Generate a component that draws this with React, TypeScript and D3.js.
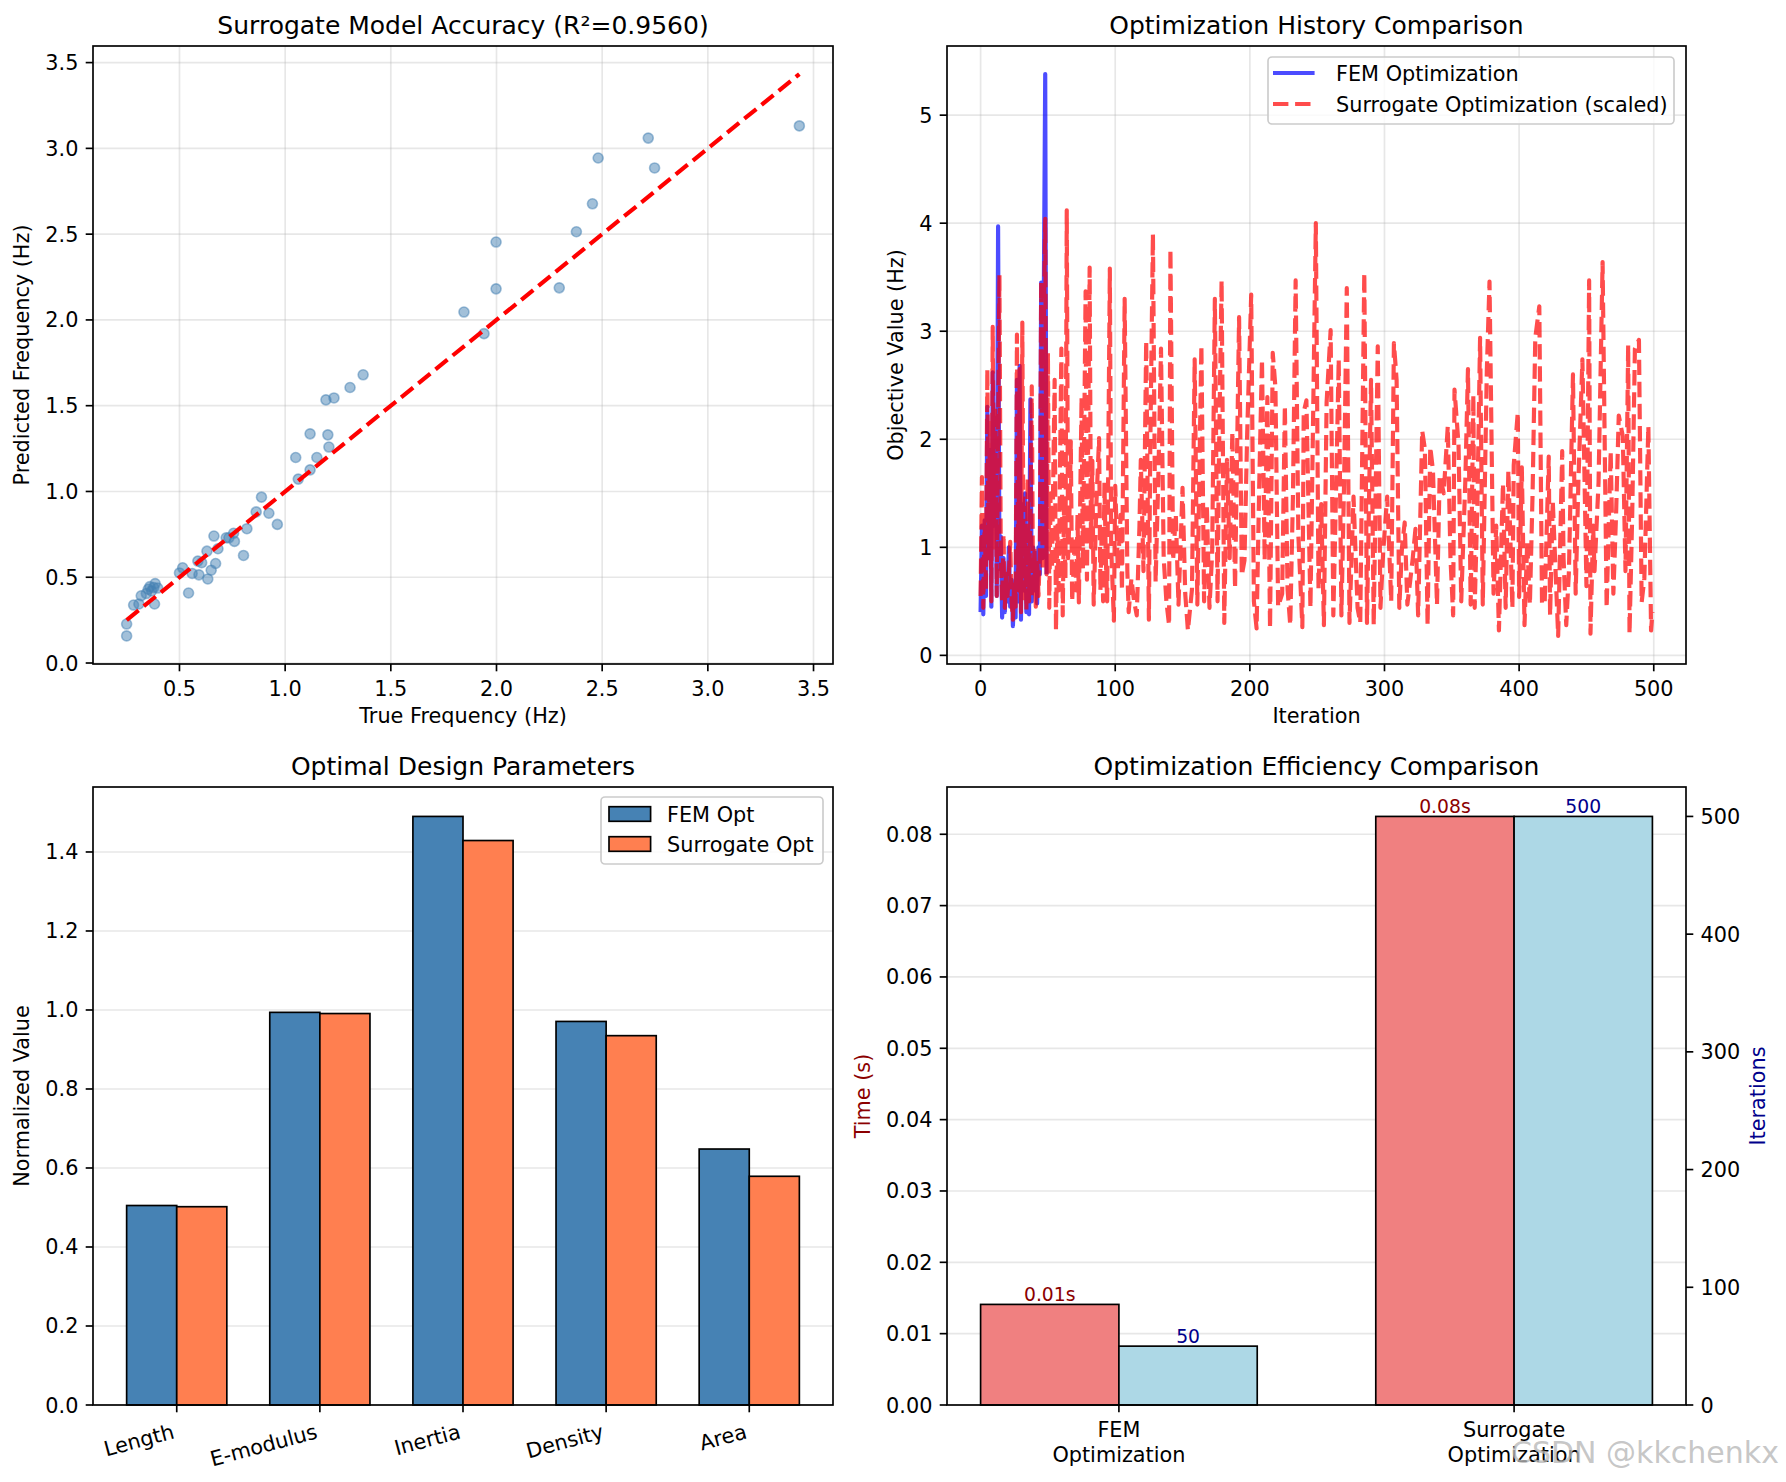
import * as d3 from "d3";
import { useEffect } from "react";

// ---- data ----
const trueFreq = [
  0.25, 0.25, 0.283, 0.308, 0.382, 0.319, 0.343, 0.352, 0.36, 0.368, 0.378, 0.385, 0.397,
  0.5, 0.515, 0.543, 0.56, 0.592, 0.587, 0.63, 0.634, 0.65, 0.671, 0.663, 0.682, 0.605,
  0.721, 0.734, 0.756, 0.76, 0.803, 0.819, 0.863, 0.888, 0.923, 0.963, 1.062,
  1.05, 1.118, 1.118, 1.15, 1.193, 1.202, 1.207, 1.231, 1.307, 1.369, 1.846, 1.941,
  1.998, 1.998, 2.297, 2.378, 2.454, 2.481, 2.718, 2.748, 3.433,
];
const predFreq = [
  0.158, 0.227, 0.338, 0.344, 0.344, 0.392, 0.405, 0.43, 0.445, 0.42, 0.44, 0.463, 0.437,
  0.525, 0.555, 0.408, 0.522, 0.514, 0.594, 0.652, 0.49, 0.541, 0.58, 0.74, 0.666, 0.585,
  0.73, 0.73, 0.756, 0.709, 0.627, 0.783, 0.881, 0.967, 0.873, 0.808, 1.072,
  1.198, 1.126, 1.336, 1.198, 1.534, 1.33, 1.259, 1.545, 1.606, 1.68, 2.046, 1.92,
  2.454, 2.181, 2.187, 2.514, 2.677, 2.944, 3.06, 2.886, 3.131,
];

const femHistory = [
  0.4, 1.2, 0.38, 1.25, 0.55, 2.3, 0.9, 1.9, 0.45, 2.62, 1.2, 2.2, 0.55, 3.97, 0.8, 1.1, 0.35,
  0.9, 0.4, 0.75, 0.5, 1.0, 0.45, 0.7, 0.27, 0.6, 0.35, 2.55, 0.5, 2.68, 0.33, 1.4, 0.6, 1.5,
  0.4, 1.1, 0.38, 2.37, 0.5, 1.0, 0.6, 0.95, 0.48, 1.0, 0.75, 3.45, 0.9, 3.4, 5.38, 0.75,
];

// [iteration, value]
const surrogateHistory: [number, number][] = [
  [0, 0.55], [1, 1.65], [2, 0.44], [3, 1.3], [4, 0.6], [5, 2.65], [6, 0.9], [7, 2.2], [8, 0.5],
  [9, 3.04], [10, 1.0], [11, 2.3], [12, 0.55], [14, 3.52], [15, 0.9], [16, 0.5], [17, 1.12],
  [18, 0.44], [19, 0.8], [20, 0.55], [21, 0.75], [22, 1.05], [23, 0.5], [24, 0.33], [25, 0.7],
  [26, 0.45], [27, 2.97], [28, 0.6], [29, 2.65], [30, 0.4], [31, 3.08], [32, 0.5], [33, 1.2],
  [34, 0.42], [35, 1.64], [36, 0.5], [37, 1.3], [38, 2.49], [39, 0.55], [40, 1.0], [41, 0.45],
  [42, 0.9], [43, 0.55], [44, 0.95], [45, 3.46], [46, 0.8], [47, 3.1], [48, 4.04], [49, 0.75],
  [50, 2.8], [51, 0.44], [52, 1.5], [53, 0.8], [55, 2.55], [56, 0.23], [57, 1.2], [58, 0.6],
  [60, 2.84], [61, 0.37], [62, 1.4], [63, 0.7], [64, 4.12], [65, 0.9], [66, 1.3], [67, 1.98],
  [68, 0.5], [70, 1.1], [71, 0.6], [72, 1.3], [73, 0.49], [75, 2.39], [76, 0.8], [78, 3.37],
  [79, 0.7], [81, 3.59], [82, 1.0], [83, 1.8], [84, 0.47], [86, 1.4], [88, 2.01], [89, 0.6],
  [90, 1.2], [91, 0.5], [92, 1.6], [93, 0.9], [94, 0.5], [96, 3.58], [97, 1.0], [99, 0.32],
  [100, 1.57], [102, 0.8], [104, 1.3], [105, 0.6], [107, 3.3], [109, 0.78], [110, 0.4],
  [112, 0.71], [114, 0.5], [116, 0.37], [118, 1.2], [119, 1.81], [121, 0.78], [123, 2.91],
  [125, 0.33], [126, 1.88], [128, 3.9], [130, 0.68], [132, 1.64], [134, 2.84], [136, 0.9],
  [138, 0.5], [140, 0.28], [141, 3.76], [143, 0.88], [145, 1.3], [147, 0.47], [150, 1.55],
  [152, 0.57], [154, 0.23], [157, 0.61], [159, 2.74], [161, 0.47], [164, 2.87], [166, 0.5],
  [168, 1.4], [170, 0.44], [172, 0.95], [174, 3.3], [176, 0.5], [177, 1.8], [179, 3.47],
  [181, 0.3], [183, 1.81], [185, 0.9], [187, 2.07], [189, 0.62], [192, 3.13], [194, 0.74],
  [196, 0.88], [198, 2.05], [201, 3.34], [203, 0.5], [205, 0.25], [207, 1.6], [209, 2.74],
  [211, 0.88], [213, 2.39], [215, 0.25], [217, 2.8], [219, 2.48], [221, 0.45], [224, 0.57],
  [226, 2.31], [228, 0.61], [230, 0.28], [232, 1.47], [234, 3.47], [236, 1.12], [239, 0.26],
  [240, 2.25], [242, 2.36], [245, 0.44], [249, 4.0], [251, 0.61], [253, 1.4], [255, 0.28],
  [257, 2.34], [260, 3.01], [262, 0.37], [264, 1.5], [266, 2.74], [268, 0.37], [270, 1.6],
  [272, 3.4], [274, 0.3], [277, 1.47], [280, 0.44], [282, 0.3], [285, 3.54], [287, 0.3],
  [290, 2.55], [292, 0.28], [295, 2.86], [297, 0.44], [299, 0.95], [302, 1.47], [305, 0.5],
  [307, 2.89], [309, 2.55], [311, 0.44], [313, 1.0], [315, 1.23], [317, 0.47], [319, 0.68],
  [321, 0.9], [323, 1.17], [325, 0.37], [328, 2.08], [330, 1.91], [332, 0.28], [334, 1.93],
  [336, 1.71], [339, 0.47], [341, 1.67], [344, 1.5], [347, 2.12], [349, 0.9], [351, 0.37],
  [352, 2.46], [355, 1.95], [357, 0.5], [360, 1.6], [362, 2.65], [364, 0.47], [366, 2.41],
  [367, 0.44], [369, 1.4], [371, 2.94], [373, 0.47], [376, 2.63], [378, 3.46], [381, 0.57],
  [383, 1.2], [385, 0.23], [388, 1.59], [390, 0.44], [392, 1.71], [395, 0.44], [396, 1.76],
  [399, 2.25], [400, 0.54], [402, 1.74], [404, 0.28], [406, 1.05], [408, 0.47], [410, 1.5],
  [412, 2.94], [415, 3.23], [417, 0.47], [419, 0.49], [422, 1.84], [423, 0.37], [425, 1.43],
  [427, 0.8], [429, 0.18], [432, 1.89], [433, 0.9], [435, 0.28], [437, 0.78], [440, 2.6],
  [442, 0.57], [444, 1.6], [447, 2.74], [450, 0.64], [452, 3.47], [453, 0.2], [455, 1.2],
  [456, 0.78], [459, 1.6], [462, 3.64], [465, 0.44], [468, 1.89], [470, 0.57], [472, 1.3],
  [474, 2.22], [477, 2.03], [479, 0.78], [481, 2.87], [482, 0.2], [484, 1.3], [486, 2.84],
  [489, 2.92], [491, 0.49], [493, 0.71], [496, 2.12], [498, 0.23], [499, 0.4],
];

const paramNames = ["Length", "E-modulus", "Inertia", "Density", "Area"];
const femParams = [0.505, 0.994, 1.49, 0.971, 0.648];
const surrogateParams = [0.502, 0.991, 1.429, 0.935, 0.579];

const methodNames = [["FEM", "Optimization"], ["Surrogate", "Optimization"]];
const timeTaken = [0.0141, 0.0825];
const iterationCounts = [50, 500];

const scatterXTicks = [0.5, 1.0, 1.5, 2.0, 2.5, 3.0, 3.5];
const scatterYTicks = [0.0, 0.5, 1.0, 1.5, 2.0, 2.5, 3.0, 3.5];
const historyXTicks = [0, 100, 200, 300, 400, 500];
const historyYTicks = [0, 1, 2, 3, 4, 5];
const paramYTicks = [0.0, 0.2, 0.4, 0.6, 0.8, 1.0, 1.2, 1.4];
const timeTicks = [0.0, 0.01, 0.02, 0.03, 0.04, 0.05, 0.06, 0.07, 0.08];
const iterTicks = [0, 100, 200, 300, 400, 500];

// ---- layout ----
const W = 1786;
const H = 1482;
const FONT = "DejaVu Sans, Liberation Sans, sans-serif";
const FS = 20.8;
const FS_TITLE = 25;
const LW = 1.67;
const COLS = [[93, 833], [947, 1686]];
const ROWS = [[46, 664], [787, 1405]];

const pad = (lo: number, hi: number) => [lo - 0.05 * (hi - lo), hi + 0.05 * (hi - lo)];

function Frame({ x0, x1, y0, y1 }: any) {
  return <rect x={x0} y={y0} width={x1 - x0} height={y1 - y0} fill="none" stroke="#000" strokeWidth={LW} />;
}

function GridX({ scale, ticks, y0, y1 }: any) {
  return (
    <g stroke="#b0b0b0" strokeOpacity={0.3} strokeWidth={LW}>
      {ticks.map((t: number) => <line key={t} x1={scale(t)} x2={scale(t)} y1={y0} y2={y1} />)}
    </g>
  );
}

function GridY({ scale, ticks, x0, x1 }: any) {
  return (
    <g stroke="#b0b0b0" strokeOpacity={0.3} strokeWidth={LW}>
      {ticks.map((t: number) => <line key={t} x1={x0} x2={x1} y1={scale(t)} y2={scale(t)} />)}
    </g>
  );
}

function BottomTicks({ scale, ticks, y, fmt }: any) {
  return (
    <g>
      {ticks.map((t: number) => (
        <g key={t}>
          <line x1={scale(t)} x2={scale(t)} y1={y} y2={y + 7.3} stroke="#000" strokeWidth={LW} />
          <text x={scale(t)} y={y + 32} textAnchor="middle" fontSize={FS}>{fmt(t)}</text>
        </g>
      ))}
    </g>
  );
}

function LeftTicks({ scale, ticks, x, fmt }: any) {
  return (
    <g>
      {ticks.map((t: number) => (
        <g key={t}>
          <line x1={x - 7.3} x2={x} y1={scale(t)} y2={scale(t)} stroke="#000" strokeWidth={LW} />
          <text x={x - 14.6} y={scale(t) + 7.5} textAnchor="end" fontSize={FS}>{fmt(t)}</text>
        </g>
      ))}
    </g>
  );
}

function RightTicks({ scale, ticks, x, fmt }: any) {
  return (
    <g>
      {ticks.map((t: number) => (
        <g key={t}>
          <line x1={x} x2={x + 7.3} y1={scale(t)} y2={scale(t)} stroke="#000" strokeWidth={LW} />
          <text x={x + 14.6} y={scale(t) + 7.5} textAnchor="start" fontSize={FS}>{fmt(t)}</text>
        </g>
      ))}
    </g>
  );
}

function YLabel({ x, y0, y1, text, color = "#000" }: any) {
  return (
    <text transform={`translate(${x},${(y0 + y1) / 2}) rotate(-90)`} textAnchor="middle" fontSize={FS} fill={color}>
      {text}
    </text>
  );
}

function Title({ x0, x1, y0, text }: any) {
  return <text x={(x0 + x1) / 2} y={y0 - 12.5} textAnchor="middle" fontSize={FS_TITLE}>{text}</text>;
}

function ScatterPanel() {
  const [x0, x1] = COLS[0];
  const [y0, y1] = ROWS[0];
  const [tMin, tMax] = d3.extent(trueFreq) as [number, number];
  const x = d3.scaleLinear().domain(pad(tMin, tMax)).range([x0, x1]);
  const yLo = Math.min(d3.min(predFreq)!, tMin);
  const yHi = Math.max(d3.max(predFreq)!, tMax);
  const y = d3.scaleLinear().domain(pad(yLo, yHi)).range([y1, y0]);
  const f1 = (v: number) => v.toFixed(1);
  return (
    <g>
      <GridX scale={x} ticks={scatterXTicks} y0={y0} y1={y1} />
      <GridY scale={y} ticks={scatterYTicks} x0={x0} x1={x1} />
      <g fill="#4682B4" fillOpacity={0.5} stroke="#4682B4" strokeOpacity={0.5} strokeWidth={1.6}>
        {trueFreq.map((t, i) => <circle key={i} cx={x(t)} cy={y(predFreq[i])} r={5} />)}
      </g>
      <line x1={x(tMin)} y1={y(tMin)} x2={x(tMax)} y2={y(tMax)} stroke="#ff0000" strokeWidth={4.17}
        strokeDasharray="15.4 6.7" />
      <Frame x0={x0} x1={x1} y0={y0} y1={y1} />
      <BottomTicks scale={x} ticks={scatterXTicks} y={y1} fmt={f1} />
      <LeftTicks scale={y} ticks={scatterYTicks} x={x0} fmt={f1} />
      <text x={(x0 + x1) / 2} y={y1 + 59} textAnchor="middle" fontSize={FS}>True Frequency (Hz)</text>
      <YLabel x={29.4} y0={y0} y1={y1} text="Predicted Frequency (Hz)" />
      <Title x0={x0} x1={x1} y0={y0} text="Surrogate Model Accuracy (R²=0.9560)" />
    </g>
  );
}

function HistoryPanel() {
  const [x0, x1] = COLS[1];
  const [y0, y1] = ROWS[0];
  const lastIter = surrogateHistory[surrogateHistory.length - 1][0];
  const x = d3.scaleLinear().domain(pad(0, lastIter)).range([x0, x1]);
  const vals = [...femHistory, ...surrogateHistory.map((d) => d[1])];
  const y = d3.scaleLinear().domain(pad(d3.min(vals)!, d3.max(vals)!)).range([y1, y0]);
  const femLine = d3.line<number>().x((_, i) => x(i)).y((d) => y(d));
  const surLine = d3.line<[number, number]>().x((d) => x(d[0])).y((d) => y(d[1]));
  const lx = 1273;
  return (
    <g>
      <GridX scale={x} ticks={historyXTicks} y0={y0} y1={y1} />
      <GridY scale={y} ticks={historyYTicks} x0={x0} x1={x1} />
      <path d={femLine(femHistory)!} fill="none" stroke="#0000ff" strokeOpacity={0.7} strokeWidth={4.17}
        strokeLinejoin="round" />
      <path d={surLine(surrogateHistory)!} fill="none" stroke="#ff0000" strokeOpacity={0.7} strokeWidth={4.17}
        strokeDasharray="15.4 6.7" strokeLinejoin="round" />
      <rect x={1268} y={57} width={406} height={67} rx={4} fill="#fff" fillOpacity={0.8} stroke="#cccccc"
        strokeWidth={LW} />
      <line x1={lx} x2={lx + 41.6} y1={73} y2={73} stroke="#0000ff" strokeOpacity={0.7} strokeWidth={4.17} />
      <text x={1336} y={80.5} fontSize={FS}>FEM Optimization</text>
      <line x1={lx} x2={lx + 41.6} y1={104} y2={104} stroke="#ff0000" strokeOpacity={0.7} strokeWidth={4.17}
        strokeDasharray="15.4 6.7" />
      <text x={1336} y={111.5} fontSize={FS}>Surrogate Optimization (scaled)</text>
      <Frame x0={x0} x1={x1} y0={y0} y1={y1} />
      <BottomTicks scale={x} ticks={historyXTicks} y={y1} fmt={(v: number) => String(v)} />
      <LeftTicks scale={y} ticks={historyYTicks} x={x0} fmt={(v: number) => String(v)} />
      <text x={(x0 + x1) / 2} y={y1 + 59} textAnchor="middle" fontSize={FS}>Iteration</text>
      <YLabel x={903.4} y0={y0} y1={y1} text="Objective Value (Hz)" />
      <Title x0={x0} x1={x1} y0={y0} text="Optimization History Comparison" />
    </g>
  );
}

function ParamsPanel() {
  const [x0, x1] = COLS[0];
  const [y0, y1] = ROWS[1];
  const bw = 0.35;
  const n = paramNames.length;
  const x = d3.scaleLinear().domain(pad(-bw, n - 1 + bw)).range([x0, x1]);
  const top = Math.max(d3.max(femParams)!, d3.max(surrogateParams)!);
  const y = d3.scaleLinear().domain([0, top * 1.05]).range([y1, y0]);
  const bar = (cx: number, v: number, color: string, key: string) => (
    <rect key={key} x={x(cx - bw / 2)} y={y(v)} width={x(cx + bw / 2) - x(cx - bw / 2)} height={y(0) - y(v)}
      fill={color} stroke="#000" strokeWidth={LW} />
  );
  return (
    <g>
      <GridY scale={y} ticks={paramYTicks} x0={x0} x1={x1} />
      {paramNames.map((_, i) => bar(i - bw / 2, femParams[i], "#4682B4", "f" + i))}
      {paramNames.map((_, i) => bar(i + bw / 2, surrogateParams[i], "#FF7F50", "s" + i))}
      <Frame x0={x0} x1={x1} y0={y0} y1={y1} />
      {paramNames.map((name, i) => (
        <g key={name}>
          <line x1={x(i)} x2={x(i)} y1={y1} y2={y1 + 7.3} stroke="#000" strokeWidth={LW} />
          <text transform={`translate(${x(i) - 1.3},${y1 + 33}) rotate(-15)`} textAnchor="end" fontSize={FS}>
            {name}
          </text>
        </g>
      ))}
      <LeftTicks scale={y} ticks={paramYTicks} x={x0} fmt={(v: number) => v.toFixed(1)} />
      <rect x={601} y={797} width={222} height={67} rx={4} fill="#fff" fillOpacity={0.8} stroke="#cccccc"
        strokeWidth={LW} />
      <rect x={609} y={814 - 7.3} width={41.6} height={14.6} fill="#4682B4" stroke="#000" strokeWidth={LW} />
      <text x={667} y={821.5} fontSize={FS}>FEM Opt</text>
      <rect x={609} y={844 - 7.3} width={41.6} height={14.6} fill="#FF7F50" stroke="#000" strokeWidth={LW} />
      <text x={667} y={851.5} fontSize={FS}>Surrogate Opt</text>
      <YLabel x={29.4} y0={y0} y1={y1} text="Normalized Value" />
      <Title x0={x0} x1={x1} y0={y0} text="Optimal Design Parameters" />
    </g>
  );
}

function EfficiencyPanel() {
  const [x0, x1] = COLS[1];
  const [y0, y1] = ROWS[1];
  const bw = 0.35;
  const n = methodNames.length;
  const x = d3.scaleLinear().domain(pad(-bw, n - 1 + bw)).range([x0, x1]);
  const yT = d3.scaleLinear().domain([0, d3.max(timeTaken)! * 1.05]).range([y1, y0]);
  const yI = d3.scaleLinear().domain([0, d3.max(iterationCounts)! * 1.05]).range([y1, y0]);
  const bx = (c: number) => x(c - bw / 2);
  const bwPx = x(bw) - x(0);
  return (
    <g>
      <GridY scale={yT} ticks={timeTicks} x0={x0} x1={x1} />
      {timeTaken.map((v, i) => (
        <rect key={"t" + i} x={bx(i - bw / 2)} y={yT(v)} width={bwPx} height={yT(0) - yT(v)} fill="#F08080"
          stroke="#000" strokeWidth={LW} />
      ))}
      {iterationCounts.map((v, i) => (
        <rect key={"i" + i} x={bx(i + bw / 2)} y={yI(v)} width={bwPx} height={yI(0) - yI(v)} fill="#ADD8E6"
          stroke="#000" strokeWidth={LW} />
      ))}
      {timeTaken.map((v, i) => (
        <text key={"tl" + i} x={x(i - bw / 2)} y={yT(v) - 3} textAnchor="middle" fontSize={18.75} fill="#8B0000">
          {v.toFixed(2)}s
        </text>
      ))}
      {iterationCounts.map((v, i) => (
        <text key={"il" + i} x={x(i + bw / 2)} y={yI(v) - 3} textAnchor="middle" fontSize={18.75} fill="#00008B">
          {v}
        </text>
      ))}
      <Frame x0={x0} x1={x1} y0={y0} y1={y1} />
      {methodNames.map((lines, i) => (
        <g key={i}>
          <line x1={x(i)} x2={x(i)} y1={y1} y2={y1 + 7.3} stroke="#000" strokeWidth={LW} />
          <text x={x(i)} y={y1 + 32} textAnchor="middle" fontSize={FS}>
            {lines.map((l, j) => <tspan key={j} x={x(i)} dy={j === 0 ? 0 : 24.5}>{l}</tspan>)}
          </text>
        </g>
      ))}
      <LeftTicks scale={yT} ticks={timeTicks} x={x0} fmt={(v: number) => v.toFixed(2)} />
      <RightTicks scale={yI} ticks={iterTicks} x={x1} fmt={(v: number) => String(v)} />
      <YLabel x={870} y0={y0} y1={y1} text="Time (s)" color="#8B0000" />
      <YLabel x={1765} y0={y0} y1={y1} text="Iterations" color="#00008B" />
      <Title x0={x0} x1={x1} y0={y0} text="Optimization Efficiency Comparison" />
    </g>
  );
}

export default function App() {
  useEffect(() => {
    document.body.style.margin = "0";
  }, []);
  return (
    <svg width={W} height={H} viewBox={`0 0 ${W} ${H}`} fontFamily={FONT}
      style={{ position: "absolute", left: 0, top: 0, background: "#fff" }}>
      <rect width={W} height={H} fill="#fff" />
      <ScatterPanel />
      <HistoryPanel />
      <ParamsPanel />
      <EfficiencyPanel />
      <text x={1511} y={1463} fontSize={30} fill="#b8b8b8" fillOpacity={0.8}>CSDN @kkchenkx</text>
    </svg>
  );
}
